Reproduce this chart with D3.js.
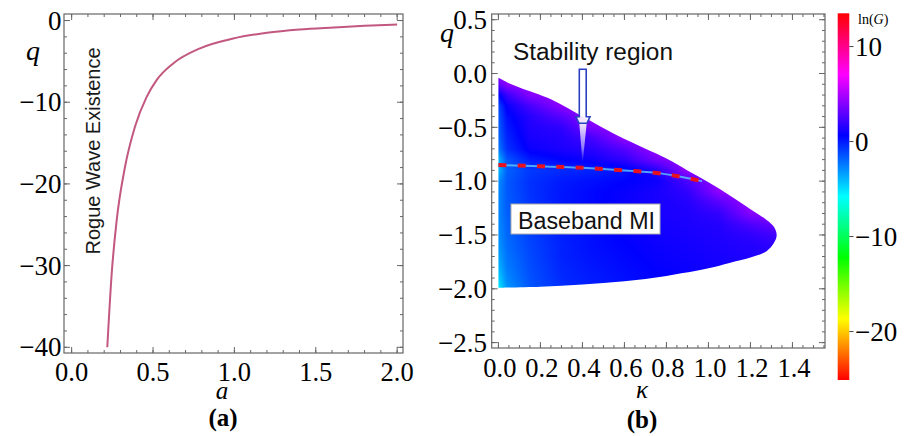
<!DOCTYPE html>
<html><head><meta charset="utf-8">
<script src="https://cdn.jsdelivr.net/npm/d3@7"></script>
<style>body{margin:0;background:#fff}svg{display:block}</style>
</head><body>
<svg id="c" width="912" height="436"></svg>
<script>
// ---------- Panel (a) data ----------
const curveA = [0.219, 0.246, 0.277, 0.328, 0.389, 0.461, 0.522, 0.624, 0.789, 0.993, 1.2, 1.4, 1.61, 1.8, 2.0];
const curveQ = [-40, -31, -24.4, -17.9, -13.0, -9.34, -7.29, -5.25, -3.4, -2.2, -1.5, -1.1, -0.85, -0.65, -0.5];
const aTicks = [0, 0.5, 1.0, 1.5, 2.0];
const aTickLabels = ["0.0", "0.5", "1.0", "1.5", "2.0"];
const qTicksA = [0, -10, -20, -30, -40];
const qTickLabelsA = ["0", "\u221210", "\u221220", "\u221230", "\u221240"];

// ---------- Panel (b) data ----------
const kTicks = [0, 0.2, 0.4, 0.6, 0.8, 1.0, 1.2, 1.4];
const kTickLabels = ["0.0", "0.2", "0.4", "0.6", "0.8", "1.0", "1.2", "1.4"];
const qTicksB = [0.5, 0, -0.5, -1.0, -1.5, -2.0, -2.5];
const qTickLabelsB = ["0.5", "0.0", "\u22120.5", "\u22121.0", "\u22121.5", "\u22122.0", "\u22122.5"];
// region boundary (kappa, q)
const topK = [0, 0.05, 0.1, 0.25, 0.4, 0.55, 0.7, 0.8, 0.9, 1.0, 1.1, 1.2, 1.277, 1.31, 1.325];
const topQ = [-0.04, -0.09, -0.13, -0.24, -0.40, -0.56, -0.70, -0.79, -0.90, -1.01, -1.13, -1.26, -1.36, -1.42, -1.5];
const botK = [1.31, 1.277, 1.2, 1.1, 1.0, 0.8, 0.6, 0.4, 0.2, 0];
const botQ = [-1.58, -1.65, -1.71, -1.76, -1.81, -1.88, -1.93, -1.96, -1.98, -1.99];
// stability (dashed) line
const stabK = [0, 0.2, 0.4, 0.6, 0.78, 0.88, 0.97];
const stabQ = [-0.85, -0.862, -0.876, -0.90, -0.93, -0.963, -1.0];
// ln(G) grid: rows = q values, columns = kappa values
const kappaGrid = [0, 0.04, 0.15, 0.3, 0.45, 0.6, 0.75, 0.9, 1.05, 1.2, 1.35];
const qGrid = [0, -0.1, -0.2, -0.3, -0.4, -0.5, -0.6, -0.7, -0.8, -0.9, -1.0, -1.1, -1.2, -1.3, -1.4, -1.5, -1.6, -1.7, -1.8, -1.9, -2.0];
const lnG = [
  [4.5, 4.5, 4.5, 4.5, 4.5, 4.5, 4.5, 4.5, 4.5, 4.5, 4.5],
  [3.0, 4.2, 4.5, 4.5, 4.5, 4.5, 4.5, 4.5, 4.5, 4.5, 4.5],
  [0.5, 2.0, 4.0, 4.5, 4.5, 4.5, 4.5, 4.5, 4.5, 4.5, 4.5],
  [-1.2, 0.8, 2.4, 4.2, 4.5, 4.5, 4.5, 4.5, 4.5, 4.5, 4.5],
  [-1.6, 0.3, 1.6, 2.8, 4.5, 4.5, 4.5, 4.5, 4.5, 4.5, 4.5],
  [-1.8, 0, 1.4, 1.8, 3.8, 4.5, 4.5, 4.5, 4.5, 4.5, 4.5],
  [-2.0, -0.3, 1.2, 1.5, 2.4, 4.3, 4.5, 4.5, 4.5, 4.5, 4.5],
  [-2.5, -0.6, 0.9, 1.3, 1.7, 2.8, 4.5, 4.5, 4.5, 4.5, 4.5],
  [-4, -1.5, 0, 0.6, 1.0, 1.8, 3.6, 4.5, 4.5, 4.5, 4.5],
  [-4, -1.8, -0.8, -0.4, -0.2, 0.2, 1.5, 4.4, 4.5, 4.5, 4.5],
  [-3, -1.6, -0.6, 0, 0.3, 0.6, 0.9, 2.5, 4.5, 4.5, 4.5],
  [-2.8, -1.6, -0.6, 0.1, 0.5, 0.8, 1.2, 1.8, 4.2, 4.5, 4.5],
  [-2.8, -1.7, -0.7, 0.1, 0.5, 0.9, 1.2, 1.5, 2.8, 4.5, 4.5],
  [-2.8, -1.8, -0.8, 0, 0.5, 0.9, 1.2, 1.4, 1.9, 4.0, 4.5],
  [-2.9, -1.9, -0.9, 0, 0.4, 0.8, 1.1, 1.3, 1.5, 2.6, 3.5],
  [-3.0, -2.0, -1.0, -0.1, 0.3, 0.7, 1.0, 1.2, 1.4, 1.8, 2.4],
  [-3.2, -2.1, -1.1, -0.2, 0.3, 0.6, 0.9, 1.1, 1.3, 1.5, 1.8],
  [-3.5, -2.3, -1.2, -0.2, 0.2, 0.5, 0.8, 1.0, 1.2, 1.4, 1.5],
  [-4.0, -2.5, -1.3, -0.3, 0.1, 0.4, 0.7, 0.9, 1.1, 1.3, 1.4],
  [-4.6, -2.8, -1.4, -0.4, 0, 0.3, 0.6, 0.8, 1.0, 1.3, 1.4],
  [-5.5, -3.2, -1.6, -0.5, -0.1, 0.3, 0.6, 0.8, 1.0, 1.3, 1.4]
];
// colorbar
const cbDomain = [-25.1, 13.5];
const cbTicks = [10, 0, -10, -20];
const cbTickLabels = ["10", "0", "\u221210", "\u221220"];

// ---------- setup ----------
const svg = d3.select("#c");
const SERIF = "'Liberation Serif','Times New Roman',serif";
const SANS = "'Liberation Sans',Arial,sans-serif";
const frameCol = "#666";

const xA = d3.scaleLinear([-0.047, 2.036], [64, 403]);
const yA = d3.scaleLinear([-40.7, 0.8], [353, 14]);
const xB = d3.scaleLinear([-0.032, 1.555], [491.7, 825]);
const yB = d3.scaleLinear([-2.55, 0.553], [348, 14]);

function frame(g, x, y, xMaj, xMin, yMaj, yMin) {
  const [x0, x1] = x.range(), [y1, y0] = y.range();
  const t = g.append("g").attr("stroke", frameCol).attr("stroke-width", 1);
  const inX = v => v >= Math.min(...x.domain()) && v <= Math.max(...x.domain());
  const inY = v => v >= Math.min(...y.domain()) && v <= Math.max(...y.domain());
  xMin.filter(inX).forEach(v => {
    t.append("line").attr("x1", x(v)).attr("x2", x(v)).attr("y1", y1).attr("y2", y1 - 3);
    t.append("line").attr("x1", x(v)).attr("x2", x(v)).attr("y1", y0).attr("y2", y0 + 3);
  });
  xMaj.filter(inX).forEach(v => {
    t.append("line").attr("x1", x(v)).attr("x2", x(v)).attr("y1", y1).attr("y2", y1 - 6);
    t.append("line").attr("x1", x(v)).attr("x2", x(v)).attr("y1", y0).attr("y2", y0 + 6);
  });
  yMin.filter(inY).forEach(v => {
    t.append("line").attr("y1", y(v)).attr("y2", y(v)).attr("x1", x0).attr("x2", x0 + 3);
    t.append("line").attr("y1", y(v)).attr("y2", y(v)).attr("x1", x1).attr("x2", x1 - 3);
  });
  yMaj.filter(inY).forEach(v => {
    t.append("line").attr("y1", y(v)).attr("y2", y(v)).attr("x1", x0).attr("x2", x0 + 6);
    t.append("line").attr("y1", y(v)).attr("y2", y(v)).attr("x1", x1).attr("x2", x1 - 6);
  });
  g.append("rect").attr("x", x0).attr("y", y0).attr("width", x1 - x0).attr("height", y1 - y0)
    .attr("fill", "none").attr("stroke", frameCol).attr("stroke-width", 1.2);
}
const rng = (a, b, s) => d3.range(Math.round((b - a) / s) + 1).map(i => +(a + i * s).toFixed(4));

// ---------- Panel (a) ----------
const gA = svg.append("g");
gA.append("path")
  .datum(curveA.map((a, i) => [a, curveQ[i]]))
  .attr("d", d3.line().x(d => xA(d[0])).y(d => yA(d[1])).curve(d3.curveMonotoneX))
  .attr("fill", "none").attr("stroke", "#c2577f").attr("stroke-width", 2);
frame(gA, xA, yA, aTicks, rng(0, 2.0, 0.1), qTicksA, rng(-40, 0, 2));
gA.selectAll(".xl").data(aTicks).join("text")
  .attr("x", d => xA(d)).attr("y", 381).attr("text-anchor", "middle")
  .attr("font-family", SERIF).attr("font-size", 26.5).text((d, i) => aTickLabels[i]);
gA.selectAll(".yl").data(qTicksA).join("text")
  .attr("x", 61.5).attr("y", d => yA(d)).attr("dy", "0.34em").attr("text-anchor", "end")
  .attr("font-family", SERIF).attr("font-size", 27).text((d, i) => qTickLabelsA[i]);
gA.append("text").attr("x", 33).attr("y", 60).attr("text-anchor", "middle")
  .attr("font-family", SERIF).attr("font-style", "italic").attr("font-size", 28).text("q");
gA.append("text").attr("x", 222).attr("y", 398.5).attr("text-anchor", "middle")
  .attr("font-family", SERIF).attr("font-style", "italic").attr("font-size", 25).text("a");
gA.append("text").attr("transform", "translate(100,151) rotate(-90)").attr("text-anchor", "middle")
  .attr("font-family", SANS).attr("font-size", 20).attr("fill", "#1a1a1a").text("Rogue Wave Existence");
gA.append("text").attr("x", 223).attr("y", 426).attr("text-anchor", "middle")
  .attr("font-family", SERIF).attr("font-weight", "bold").attr("font-size", 25).text("(a)");

// ---------- Panel (b) ----------
const gB = svg.append("g");
const hue = d3.scaleLinear(cbDomain, [0, 360]);
const colorOf = v => d3.hsl(hue(v), 1, 0.5).toString();

// heatmap image
const X0 = Math.floor(xB.range()[0]), X1 = Math.ceil(xB.range()[1]);
const Y0 = Math.floor(yB.range()[1]), Y1 = Math.ceil(yB.range()[0]);
const pw = X1 - X0, ph = Y1 - Y0;
const cnv = document.createElement("canvas");
cnv.width = pw; cnv.height = ph;
const ctx = cnv.getContext("2d");
const img = ctx.createImageData(pw, ph);
const fi = d3.scaleLinear().domain(kappaGrid).range(d3.range(kappaGrid.length)).clamp(true);
const fj = d3.scaleLinear().domain(qGrid).range(d3.range(qGrid.length)).clamp(true);
const nK = kappaGrid.length, nQ = qGrid.length;
for (let py = 0; py < ph; py++) {
  const q = yB.invert(Y0 + py + 0.5);
  const j = fj(q), j0 = Math.min(Math.floor(j), nQ - 1), j1 = Math.min(j0 + 1, nQ - 1), tj = j - j0;
  for (let px = 0; px < pw; px++) {
    const k = xB.invert(X0 + px + 0.5);
    const i = fi(k), i0 = Math.min(Math.floor(i), nK - 1), i1 = Math.min(i0 + 1, nK - 1), ti = i - i0;
    const v = (1 - tj) * ((1 - ti) * lnG[j0][i0] + ti * lnG[j0][i1]) + tj * ((1 - ti) * lnG[j1][i0] + ti * lnG[j1][i1]);
    const c = d3.rgb(colorOf(v));
    const o = (py * pw + px) * 4;
    img.data[o] = c.r; img.data[o + 1] = c.g; img.data[o + 2] = c.b; img.data[o + 3] = 255;
  }
}
ctx.putImageData(img, 0, 0);

const regionPts = topK.map((k, i) => [k, topQ[i]]).concat(botK.map((k, i) => [k, botQ[i]]));
const regionPath = d3.line().x(d => xB(d[0])).y(d => yB(d[1])).curve(d3.curveCatmullRom)(regionPts) + "Z";
const defs = svg.append("defs");
defs.append("clipPath").attr("id", "reg").append("path").attr("d", regionPath);
gB.append("image").attr("x", X0).attr("y", Y0).attr("width", pw).attr("height", ph)
  .attr("preserveAspectRatio", "none").attr("href", cnv.toDataURL()).attr("clip-path", "url(#reg)");

// thin light zero-contour under dashed line
const blur = defs.append("filter").attr("id", "bl");
blur.append("feGaussianBlur").attr("stdDeviation", 0.5);
const stabData = stabK.map((k, i) => [k, stabQ[i]]);
const stabLine = d3.line().x(d => xB(d[0])).y(d => yB(d[1])).curve(d3.curveMonotoneX);
gB.append("path").datum(stabData).attr("d", stabLine).attr("fill", "none")
  .attr("stroke", "#5ec8ff").attr("stroke-width", 2).attr("opacity", 0.8)
  .attr("filter", "url(#bl)").attr("clip-path", "url(#reg)");
gB.append("path").datum(stabData).attr("d", stabLine).attr("fill", "none")
  .attr("stroke", "#ea1020").attr("stroke-width", 4).attr("stroke-dasharray", "8,11.3");

frame(gB, xB, yB, kTicks, rng(0, 1.55, 0.05), qTicksB, rng(-2.5, 0.5, 0.1));
gB.selectAll(".xl").data(kTicks).join("text")
  .attr("x", d => xB(d) + 1.5).attr("y", 377).attr("text-anchor", "middle")
  .attr("font-family", SERIF).attr("font-size", 26.5).text((d, i) => kTickLabels[i]);
gB.selectAll(".yl").data(qTicksB).join("text")
  .attr("x", 487).attr("y", d => yB(d)).attr("dy", "0.34em").attr("text-anchor", "end")
  .attr("font-family", SERIF).attr("font-size", 27).text((d, i) => qTickLabelsB[i]);
gB.append("text").attr("x", 447).attr("y", 42).attr("text-anchor", "middle")
  .attr("font-family", SERIF).attr("font-style", "italic").attr("font-size", 28).text("q");
gB.append("text").attr("x", 642).attr("y", 398).attr("text-anchor", "middle")
  .attr("font-family", SERIF).attr("font-style", "italic").attr("font-size", 25).text("\u03ba");
gB.append("text").attr("x", 642).attr("y", 428).attr("text-anchor", "middle")
  .attr("font-family", SERIF).attr("font-weight", "bold").attr("font-size", 25).text("(b)");

// annotations
gB.append("text").attr("x", 513).attr("y", 60).attr("font-family", SANS).attr("font-size", 23)
  .attr("fill", "#111").attr("textLength", 160).attr("lengthAdjust", "spacingAndGlyphs").text("Stability region");
gB.append("rect").attr("x", 511).attr("y", 204).attr("width", 149).attr("height", 30)
  .attr("fill", "#fff").attr("stroke", "#aaa").attr("stroke-width", 1);
gB.append("text").attr("x", 518).attr("y", 229).attr("font-family", SANS).attr("font-size", 23)
  .attr("fill", "#111").attr("textLength", 137).attr("lengthAdjust", "spacingAndGlyphs").text("Baseband MI");

// arrow
const grad = defs.append("linearGradient").attr("id", "tri").attr("x1", 0).attr("y1", 0).attr("x2", 0).attr("y2", 1);
grad.append("stop").attr("offset", 0).attr("stop-color", "#f4f0ff").attr("stop-opacity", 0.95);
grad.append("stop").attr("offset", 0.6).attr("stop-color", "#d8d0ff").attr("stop-opacity", 0.6);
grad.append("stop").attr("offset", 1).attr("stop-color", "#c8c0ff").attr("stop-opacity", 0);
gB.append("path").attr("d", "M579.3,123.3 L586.7,123.3 L582.6,163.5 Z").attr("fill", "url(#tri)");
gB.append("path").attr("d", "M579.3,69.3 L586.2,69.3 L586.2,116.7 L590,116.7 L587,123.3 L579,123.3 L575.8,116.7 L579.3,116.7 Z")
  .attr("fill", "#fff").attr("fill-opacity", 0.9).attr("stroke", "#2c40c4").attr("stroke-width", 1.6)
  .attr("stroke-linejoin", "miter");

// colorbar
const cbY = d3.scaleLinear(cbDomain, [380, 13.3]);
const cg = defs.append("linearGradient").attr("id", "cb").attr("x1", 0).attr("y1", 1).attr("x2", 0).attr("y2", 0);
d3.range(0, 361, 15).forEach(h => {
  cg.append("stop").attr("offset", h / 360).attr("stop-color", d3.hsl(h, 1, 0.5).toString());
});
svg.append("rect").attr("x", 837.7).attr("y", cbY(cbDomain[1])).attr("width", 11.6)
  .attr("height", cbY(cbDomain[0]) - cbY(cbDomain[1])).attr("fill", "url(#cb)");
svg.selectAll(".cbt").data(cbTicks).join("line")
  .attr("x1", 849.3).attr("x2", 853.5).attr("y1", d => cbY(d)).attr("y2", d => cbY(d))
  .attr("stroke", "#444").attr("stroke-width", 1);
svg.selectAll(".cbl").data(cbTicks).join("text")
  .attr("x", 855).attr("y", d => cbY(d)).attr("dy", "0.34em")
  .attr("font-family", SERIF).attr("font-size", 27).text((d, i) => cbTickLabels[i]);
const lnT = svg.append("text").attr("x", 858).attr("y", 24).attr("font-family", SERIF).attr("font-size", 14);
lnT.append("tspan").text("ln(");
lnT.append("tspan").attr("font-style", "italic").text("G");
lnT.append("tspan").text(")");
</script>
</body></html>
